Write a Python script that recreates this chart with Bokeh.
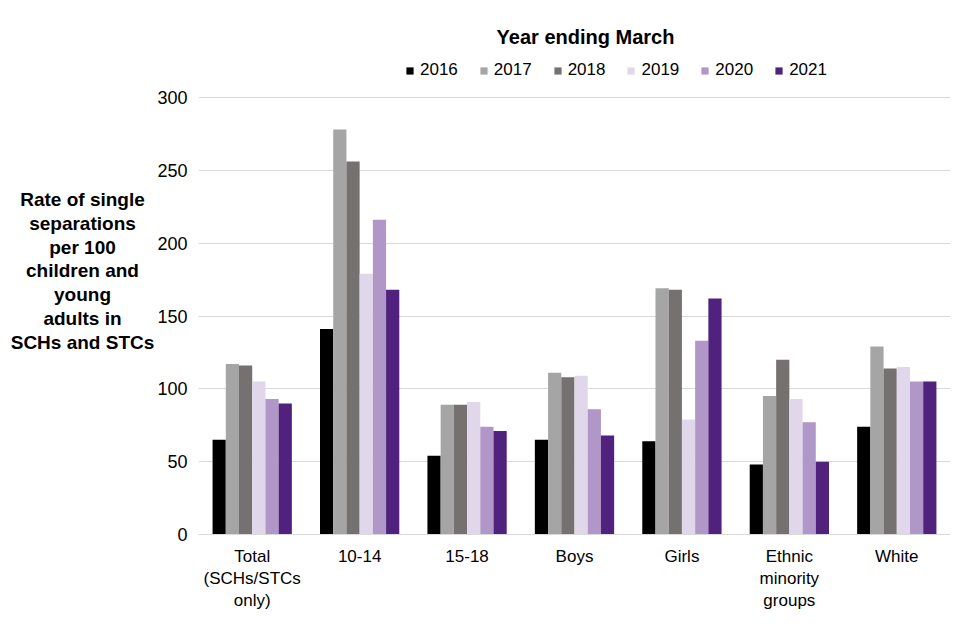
from bokeh.plotting import figure
from bokeh.layouts import row
from bokeh.models import (ColumnDataSource, FactorRange, Range1d, Legend, LegendItem, Label,
                          FixedTicker)
from bokeh.core.properties import value
from bokeh.transform import dodge
from bokeh.embed import file_html
from bokeh.resources import INLINE

categories = ["Total\n(SCHs/STCs\nonly)", "10-14", "15-18", "Boys", "Girls",
              "Ethnic\nminority\ngroups", "White"]
years = ["2016", "2017", "2018", "2019", "2020", "2021"]
v2016 = [65, 141, 54, 65, 64, 48, 74]
v2017 = [117, 278, 89, 111, 169, 95, 129]
v2018 = [116, 256, 89, 108, 168, 120, 114]
v2019 = [105, 179, 91, 109, 79, 93, 115]
v2020 = [93, 216, 74, 86, 133, 77, 105]
v2021 = [90, 168, 71, 68, 162, 50, 105]
colors = ["#000000", "#a5a5a5", "#767171", "#e0d7eb", "#b196c8", "#51217e"]
y_ticks = [0, 50, 100, 150, 200, 250, 300]
y_title = "Rate of single\nseparations\nper 100\nchildren and\nyoung\nadults in\nSCHs and STCs"
legend_title = "Year ending March"

FONT = "Liberation Sans"
LW = 154
H = 632

# left panel holding the horizontal y-axis title
left = figure(width=LW, height=H, x_range=(0, LW), y_range=(0, H),
              output_backend="svg", toolbar_location=None,
              min_border=0, min_border_left=0, min_border_right=0,
              min_border_top=0, min_border_bottom=0)
left.axis.visible = False
left.grid.visible = False
left.outline_line_color = None
left.text(x=[82], y=[H - 320], text=[y_title], text_font=value(FONT),
          text_font_size="19px", text_font_style="bold", text_align="center",
          text_baseline="middle", text_line_height=1.13, text_color="#000000")

source = ColumnDataSource(dict(cat=categories, y2016=v2016, y2017=v2017, y2018=v2018,
                               y2019=v2019, y2020=v2020, y2021=v2021))

# frame extends to the top of the canvas so the legend sits inside it
p = figure(width=952 - LW, height=H, x_range=FactorRange(*categories),
           y_range=Range1d(0, 366.6),
           output_backend="svg", toolbar_location=None,
           min_border_left=198 - LW, min_border_right=2, min_border_top=0,
           min_border_bottom=98)

bw = 0.123
items = []
for i, (yr, c) in enumerate(zip(years, colors)):
    r = p.vbar(x=dodge("cat", (i - 2.5) * bw, range=p.x_range), top="y" + yr, width=bw,
               source=source, fill_color=c, line_color=None)
    items.append(LegendItem(label=yr, renderers=[r]))

legend = Legend(items=items, orientation="horizontal", location=(207, 454),
                glyph_width=9, glyph_height=9, label_standoff=6, spacing=21,
                padding=0, margin=0, border_line_color=None, background_fill_alpha=0,
                label_text_font=FONT, label_text_font_size="17px",
                label_text_color="#000000")
p.add_layout(legend, "center")

p.add_layout(Label(x=387, y=498, x_units="screen", y_units="screen", text=legend_title,
                   text_font=FONT, text_font_size="20px", text_font_style="bold",
                   text_align="center", text_baseline="middle", text_color="#000000"))

p.outline_line_color = None
p.xgrid.grid_line_color = None
p.ygrid.grid_line_color = "#d9d9d9"
p.ygrid.grid_line_width = 1
p.yaxis.ticker = FixedTicker(ticks=y_ticks)
p.yaxis.axis_line_color = None
p.yaxis.major_tick_line_color = None
p.yaxis.minor_tick_line_color = None
p.yaxis.major_label_standoff = 5
p.yaxis.major_label_text_font = FONT
p.yaxis.major_label_text_font_size = "18px"
p.yaxis.major_label_text_color = "#000000"
p.xaxis.axis_line_color = "#d9d9d9"
p.xaxis.major_tick_line_color = None
p.xaxis.minor_tick_line_color = None
p.xaxis.major_label_standoff = 6
p.xaxis.major_label_text_font = FONT
p.xaxis.major_label_text_font_size = "17px"
p.xaxis.major_label_text_color = "#000000"
p.xaxis.major_label_text_line_height = 1.18

layout = row(left, p, spacing=0)
open("out.html", "w").write(file_html(layout, INLINE))
